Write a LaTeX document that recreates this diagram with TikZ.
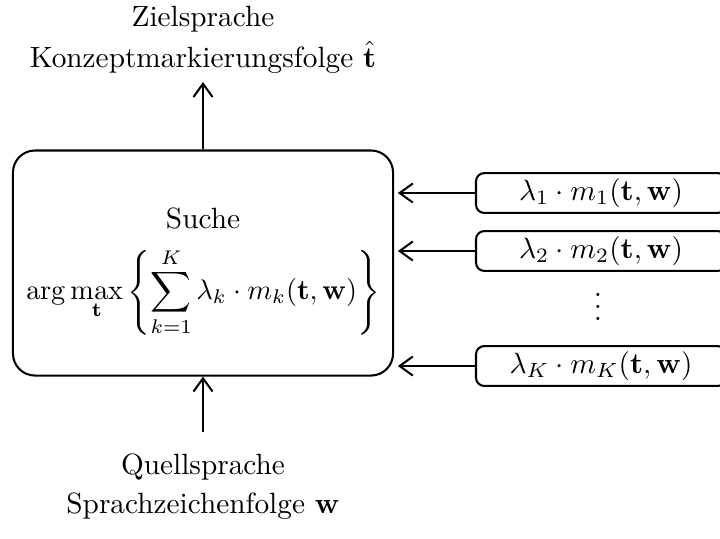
\documentclass[tikz,border=0pt]{standalone}
\usepackage{amsmath}
\usetikzlibrary{arrows.meta}
\begin{document}
\begin{tikzpicture}[x=0.34125pt,y=-0.34125pt,
  line width=0.7pt,
  arr/.style={-{Straight Barb[length=4.5pt,width=6.5pt]}},
  mainbox/.style={draw, rounded corners=7.5pt, minimum width=129.7pt, minimum height=76.8pt, inner sep=0pt},
  fbox/.style={draw, rounded corners=2.8pt, minimum width=85.3pt, minimum height=13.6pt, inner sep=0pt},
  lbl/.style={align=center, inner sep=0pt}]
\useasboundingbox (0,0) rectangle (720,538);
\clip (0,0) rectangle (720,538);
\node[mainbox] (box) at (203,263) {};
\node[inner sep=0pt] (suche) at (203,218) {Suche};
\node[inner sep=0pt, scale=0.965] (formula) at (203,292) {$\displaystyle\arg\max_{\mathbf{t}}\left\{\sum_{k=1}^{K}\lambda_k\cdot m_k(\mathbf{t},\mathbf{w})\right\}$};
\node[lbl, anchor=south, inner ysep=2.5pt] (out) at (203,82) {Zielsprache\\[2pt]Konzeptmarkierungsfolge $\hat{\mathbf{t}}$};
\node[lbl, anchor=north, inner ysep=7pt] (in) at (203,432) {Quellsprache\\[1.5pt]Sprachzeichenfolge $\mathbf{w}$};
\node[fbox] (m1) at (601,193) {$\lambda_1\cdot m_1(\mathbf{t},\mathbf{w})$};
\node[fbox] (m2) at (601,251) {$\lambda_2\cdot m_2(\mathbf{t},\mathbf{w})$};
\node[inner sep=0pt] (dots) at (598,298) {$\vdots$};
\node[fbox] (mK) at (601,366) {$\lambda_K\cdot m_K(\mathbf{t},\mathbf{w})$};
\draw[arr] (box.north) -- (box.north |- out.south);
\draw[arr] (in.north) -- (box.south);
\draw[arr, shorten >=1.3pt] (m1.west) -- (m1.west -| box.east);
\draw[arr, shorten >=1.3pt] (m2.west) -- (m2.west -| box.east);
\draw[arr, shorten >=1.3pt] (mK.west) -- (mK.west -| box.east);
\end{tikzpicture}
\end{document}
